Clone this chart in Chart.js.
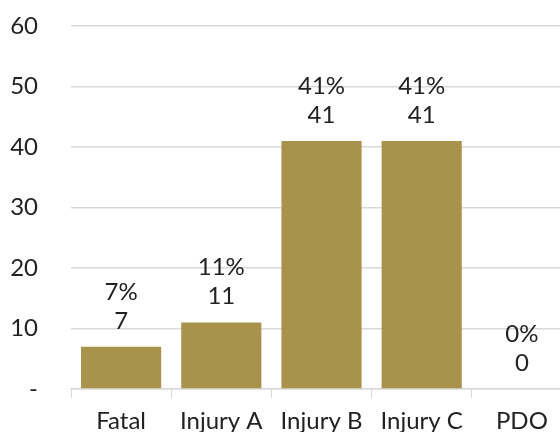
<!DOCTYPE html>
<html>
<head>
<meta charset="utf-8">
<script src="https://cdn.jsdelivr.net/npm/chart.js@4.4.1/dist/chart.umd.min.js"></script>
<style>
  html, body { margin: 0; padding: 0; overflow: hidden; background: #fff; }
  #wrap { width: 572px; height: 432px; }
</style>
</head>
<body>
<div id="wrap"><canvas id="crashes"></canvas></div>
<script>
const categories = ['Fatal', 'Injury A', 'Injury B', 'Injury C', 'PDO'];
const counts = [7, 11, 41, 41, 0];
const percents = ['7%', '11%', '41%', '41%', '0%'];

const labelPlugin = {
    id: 'barLabels',
    afterDatasetsDraw(chart) {
        const ctx = chart.ctx;
        const meta = chart.getDatasetMeta(0);
        ctx.save();
        ctx.font = '24px Lato';
        ctx.fillStyle = '#222';
        ctx.textAlign = 'center';
        ctx.textBaseline = 'alphabetic';
        meta.data.forEach(function (bar, i) {
            ctx.fillText(String(counts[i]), bar.x, bar.y - 18);
            ctx.fillText(percents[i], bar.x, bar.y - 47);
        });
        ctx.restore();
    }
};

const config = {
    type: 'bar',
    data: {
        labels: categories,
        datasets: [{
            data: counts,
            backgroundColor: '#A9934C',
            barPercentage: 0.8,
            categoryPercentage: 1.0
        }]
    },
    options: {
        responsive: true,
        maintainAspectRatio: false,
        animation: false,
        layout: { padding: 0 },
        plugins: { legend: { display: false }, tooltip: { enabled: false } },
        scales: {
            x: {
                afterFit: function (scale) { scale.height = 43; scale.paddingLeft = 0; scale.paddingRight = 0; },
                grid: { drawOnChartArea: false, drawTicks: true, tickLength: 9, offset: true, color: '#d9d9d9' },
                border: { display: true, color: '#d9d9d9', width: 1.5 },
                ticks: { color: '#222', font: { family: 'Lato', size: 24 }, padding: 9 }
            },
            y: {
                min: 0,
                max: 60,
                afterFit: function (scale) { scale.width = 71; scale.paddingTop = 26; scale.paddingBottom = 0; },
                grid: { drawTicks: false, color: '#d9d9d9', lineWidth: 1.5 },
                border: { display: false },
                ticks: {
                    stepSize: 10,
                    padding: 33,
                    color: '#222',
                    font: { family: 'Lato', size: 24 },
                    callback: function (v) { return v === 0 ? '-' : v; }
                }
            }
        }
    },
    plugins: [labelPlugin]
};

var ctx = document.getElementById('crashes').getContext('2d');
var crashes = new Chart(ctx, config);
</script>
</body>
</html>
